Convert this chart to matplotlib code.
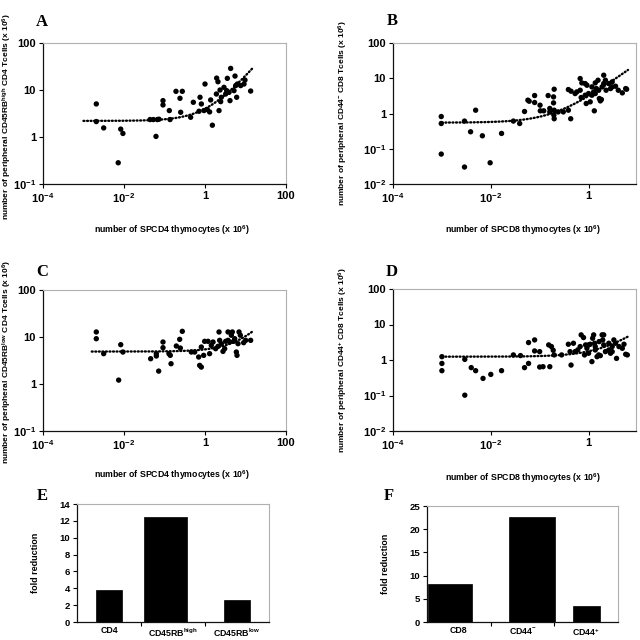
import numpy as np
import matplotlib
matplotlib.use('Agg')
import matplotlib.pyplot as plt
from matplotlib.ticker import FixedLocator, FixedFormatter, NullLocator

plt.rcParams['font.family'] = ['Liberation Sans', 'DejaVu Sans']
plt.rcParams['font.weight'] = 'bold'
plt.rcParams['mathtext.default'] = 'regular'

# ---------------- data ----------------
# Panel A: SPCD4 thymocytes vs CD45RB-high CD4 T cells
a_x = [0.00207, 0.00207, 0.00315, 0.0083, 0.0094, 0.0072, 0.0616, 0.0439, 0.053, 0.0665,
       0.073, 0.0918, 0.0918, 0.1315, 0.137, 0.192, 0.275, 0.241, 0.251, 0.442,
       0.515, 0.753, 0.813, 0.711, 1.0, 0.945, 1.14, 1.30, 1.38, 1.52,
       1.94, 2.09, 1.91, 2.22, 2.44, 2.35, 2.53, 2.94, 3.24, 3.56,
       4.30, 4.14, 3.43, 3.92, 5.51, 5.72, 6.05, 6.29, 7.6, 9.19,
       9.7, 13.4, 5.2]
a_y = [5.05, 2.13, 1.56, 1.47, 1.19, 0.283, 1.03, 2.35, 2.35, 2.35,
       2.39, 5.94, 4.81, 3.65, 2.35, 9.37, 9.37, 6.66, 3.36, 2.63,
       5.48, 7.0, 5.05, 3.53, 13.4, 3.65, 3.83, 3.42, 6.14, 1.78,
       17.9, 15.0, 8.22, 3.65, 5.66, 10.0, 7.0, 11.4, 8.22, 17.7,
       28.8, 5.94, 9.68, 8.92, 19.8, 12.4, 7.0, 13.4, 12.4, 13.4,
       16.3, 9.5, 9.68]
a_trend = (2.2, 1.8)          # intercept, slope of linear trend
a_trend_range = (0.001, 15.5)

# Panel B: SPCD8 thymocytes vs CD44- CD8 T cells
b_x = [0.00097, 0.00097, 0.00097, 0.0029, 0.0029, 0.00386, 0.0049, 0.00673, 0.0097, 0.0166,
       0.029, 0.039, 0.049, 0.0574, 0.061, 0.0788, 0.0788, 0.1017, 0.103, 0.121,
       0.149, 0.161, 0.161, 0.198, 0.192, 0.192, 0.198, 0.195, 0.198, 0.239,
       0.304, 0.386, 0.431, 0.386, 0.438, 0.574, 0.673, 0.728, 0.705, 0.853,
       0.895, 1.0, 1.08, 1.17, 1.31, 1.37, 1.44, 1.56, 1.66, 1.74,
       1.83, 2.04, 2.04, 2.28, 2.59, 2.81, 3.04, 3.56, 4.05, 4.9,
       5.74, 6.0, 0.925, 1.27, 1.61, 1.89, 2.21, 0.673, 0.53, 0.853,
       1.37, 3.04, 1.17]
b_y = [0.82, 0.52, 0.0706, 0.61, 0.0303, 0.303, 1.24, 0.233, 0.040, 0.272,
       0.61, 0.52, 1.14, 2.39, 2.23, 3.23, 2.05, 1.72, 1.19, 1.19,
       3.23, 1.39, 1.11, 4.88, 2.96, 2.0, 1.24, 0.90, 0.71, 1.11,
       1.11, 1.24, 0.71, 4.78, 4.29, 4.1, 9.8, 7.38, 2.84, 3.30,
       1.92, 3.68, 2.14, 5.69, 1.19, 7.38, 5.1, 8.78, 2.66, 2.28,
       2.49, 12.2, 7.06, 4.57, 7.06, 5.1, 5.69, 5.94, 4.57, 3.85,
       5.1, 4.88, 6.34, 4.1, 4.57, 5.69, 8.78, 4.57, 3.68, 7.06,
       3.68, 7.9, 3.30]
b_trend = (0.55, 2.6)
b_trend_range = (0.001, 6.4)

# Panel C: SPCD4 thymocytes vs CD45RB-low CD4 T cells
c_x = [0.00207, 0.00207, 0.00315, 0.0083, 0.0094, 0.00738, 0.0455, 0.0628, 0.0628, 0.0718,
       0.0918, 0.0918, 0.129, 0.139, 0.145, 0.196, 0.237, 0.246, 0.275, 0.46,
       0.556, 0.698, 0.738, 0.811, 0.811, 0.927, 0.98, 1.19, 1.30, 1.43,
       1.58, 1.83, 2.09, 2.22, 2.30, 2.53, 2.78, 3.06, 3.24, 3.70,
       3.70, 4.06, 4.47, 4.73, 5.1, 5.41, 5.94, 6.17, 6.53, 6.92,
       7.45, 9.0, 10.1, 13.4]
c_y = [12.8, 9.2, 4.42, 6.87, 4.79, 1.21, 3.45, 4.42, 3.94, 1.88,
       7.82, 5.92, 4.42, 4.07, 2.70, 6.43, 8.92, 5.82, 13.2, 4.79,
       4.79, 3.75, 2.49, 2.29, 6.12, 4.07, 8.09, 8.09, 4.42, 6.64,
       7.82, 5.64, 6.32, 12.8, 8.49, 7.21, 4.94, 5.64, 8.09, 8.49,
       12.8, 7.82, 10.9, 12.8, 8.09, 9.2, 4.79, 4.07, 7.21, 12.8,
       10.9, 7.57, 8.49, 8.49]
c_trend = (4.9, 0.55)
c_trend_range = (0.0016, 15.3)

# Panel D: SPCD8 thymocytes vs CD44+ CD8 T cells
d_x = [0.001, 0.001, 0.001, 0.00294, 0.00294, 0.00398, 0.0049, 0.00694, 0.01, 0.0166,
       0.029, 0.0405, 0.049, 0.0592, 0.0592, 0.0788, 0.0788, 0.1, 0.1, 0.117,
       0.153, 0.161, 0.174, 0.189, 0.198, 0.281, 0.386, 0.418, 0.438, 0.49,
       0.53, 0.673, 0.705, 0.788, 0.826, 0.925, 1.0, 1.08, 1.17, 1.21,
       1.27, 1.33, 1.37, 1.49, 1.61, 1.74, 1.89, 1.95, 2.04, 2.04,
       2.21, 2.59, 2.81, 3.04, 3.29, 3.56, 3.73, 4.18, 4.9, 5.3,
       5.74, 6.2, 1.37, 1.64, 1.0, 0.87, 0.601, 2.59, 3.04]
d_y = [1.24, 0.80, 0.50, 1.04, 0.102, 0.61, 0.50, 0.303, 0.393, 0.50,
       1.39, 1.33, 0.61, 3.1, 0.80, 3.68, 1.80, 1.72, 0.634, 0.648,
       2.66, 0.648, 2.39, 1.88, 1.39, 1.39, 2.78, 1.72, 0.72, 2.96,
       1.72, 2.39, 5.1, 4.29, 1.39, 2.14, 2.66, 2.78, 0.90, 4.1,
       5.1, 2.96, 2.39, 1.24, 1.39, 1.33, 5.1, 3.68, 2.66, 5.1,
       1.72, 1.92, 1.55, 1.72, 3.68, 2.96, 1.11, 2.39, 2.14, 2.78,
       1.45, 1.39, 1.92, 3.3, 1.55, 2.66, 1.92, 2.96, 2.39]
d_trend = (1.24, 0.52)
d_trend_range = (0.001, 6.4)

# Panel E / F: fold reduction
e_cats = ['CD4', 'CD45RB$^{high}$', 'CD45RB$^{low}$']
e_vals = [3.75, 12.4, 2.6]
f_cats = ['CD8', 'CD44$^{-}$', 'CD44$^{+}$']
f_vals = [8.2, 22.6, 3.5]

# ---------------- layout / style ----------------
W = H = 640.0
fig = plt.figure(figsize=(6.4, 6.4), dpi=100)


def rect(l, t, r, b):
    return [l / W, 1 - b / H, (r - l) / W, (b - t) / H]


def style_spines(ax):
    for s in ('left', 'bottom'):
        ax.spines[s].set_color('#111111')
        ax.spines[s].set_linewidth(0.9)
    for s in ('top', 'right'):
        ax.spines[s].set_color('#b0b0b0')
        ax.spines[s].set_linewidth(0.8)


def scatter_panel(r, xs, ys, trend, trange, xlim, ylim, xt, xtl, yt, ytl):
    ax = fig.add_axes(r)
    ax.set_xscale('log')
    ax.set_yscale('log')
    ax.scatter(xs, ys, s=15, c='black', edgecolors='none', zorder=3)
    tx = np.logspace(np.log10(trange[0]), np.log10(trange[1]), 300)
    ax.plot(tx, trend[0] + trend[1] * tx, color='black', lw=1.7,
            ls=(0, (0.4, 1.1)), dash_capstyle='round', zorder=2)
    ax.set_xlim(*xlim)
    ax.set_ylim(*ylim)
    ax.xaxis.set_major_locator(FixedLocator(xt))
    ax.xaxis.set_major_formatter(FixedFormatter(xtl))
    ax.yaxis.set_major_locator(FixedLocator(yt))
    ax.yaxis.set_major_formatter(FixedFormatter(ytl))
    ax.xaxis.set_minor_locator(NullLocator())
    ax.yaxis.set_minor_locator(NullLocator())
    ax.tick_params(direction='out', length=3, width=0.8, labelsize=8, pad=2)
    style_spines(ax)
    return ax


xt4 = [1e-4, 1e-2, 1, 100]
xtl4 = ['$10^{-4}$', '$10^{-2}$', '1', '100']
xt8 = [1e-4, 1e-2, 1]
xtl8 = ['$10^{-4}$', '$10^{-2}$', '1']
yt3 = [0.1, 1, 10, 100]
ytl3 = ['$10^{-1}$', '1', '10', '100']
yt4 = [0.01, 0.1, 1, 10, 100]
ytl4 = ['$10^{-2}$', '$10^{-1}$', '1', '10', '100']

scatter_panel(rect(43, 43, 286, 184), a_x, a_y, a_trend, a_trend_range,
              (1e-4, 100), (0.1, 100), xt4, xtl4, yt3, ytl3)
scatter_panel(rect(393, 43, 636, 184), b_x, b_y, b_trend, b_trend_range,
              (1e-4, 10 ** 0.97), (0.01, 100), xt8, xtl8, yt4, ytl4)
scatter_panel(rect(43, 290, 286, 431), c_x, c_y, c_trend, c_trend_range,
              (1e-4, 100), (0.1, 100), xt4, xtl4, yt3, ytl3)
scatter_panel(rect(393, 289, 636, 431), d_x, d_y, d_trend, d_trend_range,
              (1e-4, 10 ** 0.97), (0.01, 100), xt8, xtl8, yt4, ytl4)


def bar_panel(r, cats, vals, ymax, ystep, offsets, widths):
    ax = fig.add_axes(r)
    pos = np.arange(len(cats)) + np.array(offsets)
    ax.bar(pos, vals, width=widths, color='black', edgecolor='black', linewidth=0.5)
    ax.set_xlim(-0.5, len(cats) - 0.5)
    ax.set_ylim(0, ymax)
    ax.set_yticks(np.arange(0, ymax + 0.1, ystep))
    ax.set_xticks(np.arange(len(cats)))
    ax.set_xticklabels(cats)
    ax.set_xticks(np.arange(len(cats) - 1) + 0.5, minor=True)
    ax.tick_params(axis='x', which='major', length=0, labelsize=6.3, pad=3)
    ax.tick_params(axis='x', which='minor', length=3, width=0.8, direction='out')
    ax.tick_params(axis='y', length=3, width=0.8, direction='out', labelsize=6.8, pad=2)
    style_spines(ax)
    ax.set_ylabel('fold reduction', fontsize=6.5, fontweight='bold', labelpad=14)
    return ax


ax_e = bar_panel(rect(77, 504, 269, 622), e_cats, e_vals, 14, 2,
                 [0.0, -0.12, 0.0], [0.42, 0.68, 0.42])
ax_f = bar_panel(rect(427, 506, 618, 622), f_cats, f_vals, 25, 5,
                 [-0.14, 0.15, 0.0], [0.70, 0.71, 0.42])

# axis titles
xl_kw = dict(fontsize=6.3, fontweight='bold', ha='center', va='center')
fig.text(172 / W, 1 - 230 / H, 'number of SPCD4 thymocytes (x 10$^{6}$)', **xl_kw)
fig.text(523 / W, 1 - 230 / H, 'number of SPCD8 thymocytes (x 10$^{6}$)', **xl_kw)
fig.text(172 / W, 1 - 475 / H, 'number of SPCD4 thymocytes (x 10$^{6}$)', **xl_kw)
fig.text(523 / W, 1 - 478 / H, 'number of SPCD8 thymocytes (x 10$^{6}$)', **xl_kw)

yl_kw = dict(fontsize=6.0, fontweight='bold', ha='center', va='center', rotation=90)
fig.text(7 / W, 1 - 117 / H, 'number of peripheral CD45RB$^{high}$ CD4 Tcells (x 10$^{6}$)', **yl_kw)
fig.text(343 / W, 1 - 113 / H, 'number of peripheral CD44$^{-}$ CD8 Tcells (x 10$^{6}$)', **yl_kw)
fig.text(7 / W, 1 - 362 / H, 'number of peripheral CD45RB$^{low}$ CD4 Tcells (x 10$^{6}$)', **yl_kw)
fig.text(343 / W, 1 - 360 / H, 'number of peripheral CD44$^{+}$ CD8 Tcells (x 10$^{6}$)', **yl_kw)

# panel letters
lt_kw = dict(fontsize=12, fontweight='bold', family='Liberation Serif', ha='center', va='center')
for letter, (px, py) in {'A': (42, 22), 'B': (392, 21), 'C': (42, 272),
                         'D': (392, 272), 'E': (42, 496), 'F': (389, 496)}.items():
    fig.text(px / W, 1 - py / H, letter, **lt_kw)

fig.savefig('out.png', dpi=100, facecolor='white')
